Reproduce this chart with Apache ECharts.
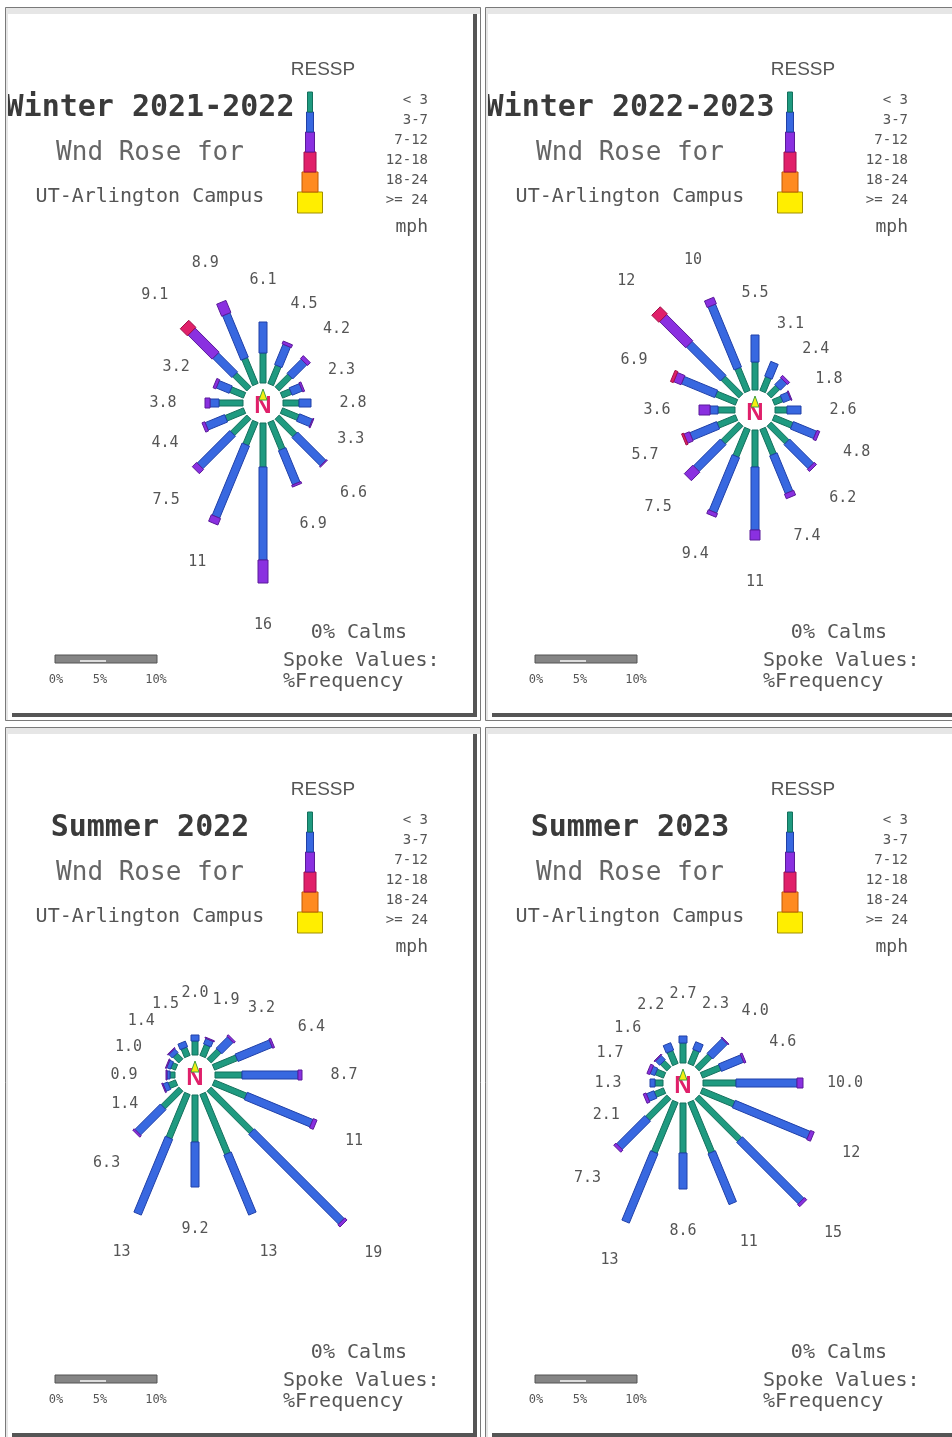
<!DOCTYPE html>
<html><head><meta charset="utf-8">
<script src="https://cdn.jsdelivr.net/npm/echarts@6/dist/echarts.min.js"></script>
<style>html,body{margin:0;padding:0;background:#fff}#c{width:952px;height:1437px}</style>
</head><body><div id="c"></div>
<script>
// ---- DATA ----
const directions = ['N','NNE','NE','ENE','E','ESE','SE','SSE','S','SSW','SW','WSW','W','WNW','NW','NNW'];
const speedBins = ['< 3','3-7','7-12','12-18','18-24','>= 24'];
const titles = ['Winter 2021-2022','Winter 2022-2023','Summer 2022','Summer 2023'];

// Winter 2021-2022 (% frequency per speed bin)
const w2122_lt3   = [3.0,2.0,1.8,1.0,1.6,1.8,2.5,3.0,4.4,2.5,2.3,2.0,2.4,1.5,2.0,2.8];
const w2122_3to7  = [3.1,2.2,2.0,1.1,1.2,1.4,4.0,3.7,9.3,7.8,4.6,2.1,0.9,1.4,2.7,4.8];
const w2122_7to12 = [0,0.3,0.4,0.2,0,0.1,0.1,0.2,2.3,0.7,0.6,0.3,0.5,0.3,3.4,1.3];
const w2122_12to18= [0,0,0,0,0,0,0,0,0,0,0,0,0,0,1.0,0];
const w2122_labels= ['6.1','4.5','4.2','2.3','2.8','3.3','6.6','6.9','16','11','7.5','4.4','3.8','3.2','9.1','8.9'];

// Winter 2022-2023
const w2223_lt3   = [2.8,1.5,1.2,0.9,1.2,2.0,2.5,2.8,3.7,3.0,2.5,2.0,1.7,2.2,2.5,2.5];
const w2223_3to7  = [2.7,1.6,0.9,0.8,1.4,2.5,3.4,4.1,6.3,6.0,3.8,2.9,0.8,3.6,4.8,6.8];
const w2223_7to12 = [0,0,0.3,0.1,0,0.3,0.3,0.5,1.0,0.4,1.2,0.6,1.1,0.8,3.7,0.7];
const w2223_12to18= [0,0,0,0,0,0,0,0,0,0,0,0.2,0,0.3,1.0,0];
const w2223_labels= ['5.5','3.1','2.4','1.8','2.6','4.8','6.2','7.4','11','9.4','7.5','5.7','3.6','6.9','12','10'];

// Summer 2022
const s22_lt3   = [1.4,1.2,1.4,2.5,2.7,3.5,6.0,6.5,4.7,4.8,2.5,0.8,0.5,0.5,0.8,0.9];
const s22_3to7  = [0.6,0.6,1.6,3.7,5.6,7.1,12.7,6.5,4.5,8.2,3.6,0.5,0.3,0.4,0.5,0.6];
const s22_7to12 = [0,0.1,0.2,0.2,0.4,0.4,0.3,0,0,0,0.2,0.1,0.1,0.1,0.1,0];
const s22_12to18= [0,0,0,0,0,0,0,0,0,0,0,0,0,0,0,0];
const s22_labels= ['2.0','1.9','3.2','6.4','8.7','11','19','13','9.2','13','6.3','1.4','0.9','1.0','1.4','1.5'];

// Summer 2023
const s23_lt3   = [2.0,1.5,1.8,2.0,3.3,3.5,6.0,5.5,5.0,5.5,3.0,1.0,0.8,0.9,0.9,1.4];
const s23_3to7  = [0.7,0.8,2.1,2.4,6.1,8.1,8.7,5.5,3.6,7.5,4.0,0.8,0.5,0.5,0.6,0.8];
const s23_7to12 = [0,0,0.1,0.2,0.6,0.4,0.3,0,0,0,0.3,0.3,0,0.3,0.1,0];
const s23_12to18= [0,0,0,0,0,0,0,0,0,0,0,0,0,0,0,0];
const s23_labels= ['2.7','2.3','4.0','4.6','10.0','12','15','11','8.6','13','7.3','2.1','1.3','1.7','1.6','2.2'];

// ---- LAYOUT / STYLE ----
const panels = [
  {bins:[w2122_lt3,w2122_3to7,w2122_7to12,w2122_12to18], labels:w2122_labels},
  {bins:[w2223_lt3,w2223_3to7,w2223_7to12,w2223_12to18], labels:w2223_labels},
  {bins:[s22_lt3,s22_3to7,s22_7to12,s22_12to18], labels:s22_labels},
  {bins:[s23_lt3,s23_3to7,s23_7to12,s23_12to18], labels:s23_labels}
];
const offsets = [[0,0],[480,0],[0,720],[480,720]];
const centers = [[263,403],[755,410],[195,1075],[683,1083]];
const binColors = ['#1f9a80','#3868e0','#8a30e0','#e0206a','#ff8a20','#ffee00'];
const binStroke = ['#13705c','#2040a8','#5a1a9a','#a01048','#c05a00','#a09000'];
const spokeWidth = [6,8,10,12];
const MONO = '"DejaVu Sans Mono","Liberation Mono",monospace';

const chart = echarts.init(document.getElementById('c'), null, {renderer:'canvas'});

const polar = [], angleAxis = [], radiusAxis = [], series = [];
panels.forEach((p, i) => {
  polar.push({center: centers[i], radius: 220});
  angleAxis.push({polarIndex:i, type:'value', min:0, max:360, startAngle:90, clockwise:true, show:false,
    axisLine:{show:false}, axisTick:{show:false}, axisLabel:{show:false}, splitLine:{show:false}});
  radiusAxis.push({polarIndex:i, type:'value', min:-2, max:20, show:false,
    axisLine:{show:false}, axisTick:{show:false}, axisLabel:{show:false}, splitLine:{show:false}});
  const data = directions.map((d, k) => {
    const b = p.bins.map(arr => arr[k]);
    const tot = b.reduce((a, c) => a + c, 0);
    return [tot, k * 22.5, b[0], b[1], b[2], b[3], k];
  });
  series.push({
    type:'custom', coordinateSystem:'polar', polarIndex:i, silent:true, animation:false,
    data: data,
    renderItem: (params, api) => {
      const ang = api.value(1);
      const children = [];
      let r0 = 0;
      for (let s = 0; s < 4; s++) {
        const v = api.value(2 + s);
        if (!(v > 0)) continue;
        const r1 = r0 + v;
        const a = api.coord([r0, ang]), b = api.coord([r1, ang]);
        let dx = b[0]-a[0], dy = b[1]-a[1];
        const L = Math.hypot(dx, dy) || 1; dx/=L; dy/=L;
        const h = spokeWidth[s]/2, nx = -dy*h, ny = dx*h;
        children.push({type:'polygon', shape:{points:[[a[0]+nx,a[1]+ny],[b[0]+nx,b[1]+ny],[b[0]-nx,b[1]-ny],[a[0]-nx,a[1]-ny]]},
          style:{fill:binColors[s], stroke:binStroke[s], lineWidth:1}});
        r0 = r1;
      }
      const lp = api.coord([api.value(0) + 4.2, ang]);
      children.push({type:'text', x:lp[0], y:lp[1], style:{text: p.labels[api.value(6)], fill:'#555',
        font:'15px ' + MONO, align:'center', verticalAlign:'middle'}});
      return {type:'group', children};
    }
  });
});

// ---- GRAPHIC (titles, legend, frames) ----
const graphic = [];
panels.forEach((p, i) => {
  const [ox, oy] = offsets[i];
  const c = centers[i];
  // titles
  graphic.push({type:'text', x:150+ox, y:108+oy, z:5, style:{text:titles[i], font:'bold 30px '+MONO, fill:'#3a3a3a', align:'center', verticalAlign:'middle'}});
  graphic.push({type:'text', x:150+ox, y:153+oy, z:5, style:{text:'Wnd Rose for', font:'26px '+MONO, fill:'#666', align:'center', verticalAlign:'middle'}});
  graphic.push({type:'text', x:150+ox, y:197+oy, z:5, style:{text:'UT-Arlington Campus', font:'20px '+MONO, fill:'#555', align:'center', verticalAlign:'middle'}});
  // legend
  graphic.push({type:'text', x:323+ox, y:70+oy, z:5, style:{text:'RESSP', font:'19px "Liberation Sans",sans-serif', fill:'#555', align:'center', verticalAlign:'middle'}});
  const lw = [5,7,9,12,16,25], ly = [92,112,132,152,172,192,213];
  for (let k = 5; k >= 0; k--) {
    graphic.push({type:'rect', z:5, shape:{x:310+ox-lw[k]/2, y:ly[k]+oy, width:lw[k], height:ly[k+1]-ly[k]},
      style:{fill:binColors[k], stroke:binStroke[k], lineWidth:1}});
  }
  speedBins.forEach((t, k) => {
    graphic.push({type:'text', x:428+ox, y:100+20*k+oy, z:5, style:{text:t, font:'14px '+MONO, fill:'#555', align:'right', verticalAlign:'middle'}});
  });
  graphic.push({type:'text', x:428+ox, y:227+oy, z:5, style:{text:'mph', font:'18px '+MONO, fill:'#555', align:'right', verticalAlign:'middle'}});
  // center arrow
  graphic.push({type:'text', x:c[0], y:c[1]+3, z:20, style:{text:'N', font:'bold 24px "Liberation Sans",sans-serif', fill:'#e0206a', align:'center', verticalAlign:'middle'}});
  graphic.push({type:'polygon', z:21, shape:{points:[[c[0],c[1]-14],[c[0]-4,c[1]-3],[c[0]+4,c[1]-3]]}, style:{fill:'#f4ee10', stroke:'#40a040', lineWidth:1}});
  // footer
  graphic.push({type:'text', x:359+ox, y:633+oy, z:5, style:{text:'0% Calms', font:'20px '+MONO, fill:'#555', align:'center', verticalAlign:'middle'}});
  graphic.push({type:'text', x:283+ox, y:661+oy, z:5, style:{text:'Spoke Values:', font:'20px '+MONO, fill:'#555', align:'left', verticalAlign:'middle'}});
  graphic.push({type:'text', x:283+ox, y:682+oy, z:5, style:{text:'%Frequency', font:'20px '+MONO, fill:'#555', align:'left', verticalAlign:'middle'}});
  graphic.push({type:'rect', z:5, shape:{x:55+ox, y:655+oy, width:102, height:8}, style:{fill:'#858585', stroke:'#555', lineWidth:1}});
  graphic.push({type:'rect', z:6, shape:{x:80+ox, y:660+oy, width:26, height:2}, style:{fill:'#ddd'}});
  [['0%',56],['5%',100],['10%',156]].forEach(([t,x]) => {
    graphic.push({type:'text', x:x+ox, y:680+oy, z:5, style:{text:t, font:'12px '+MONO, fill:'#555', align:'center', verticalAlign:'middle'}});
  });
  // frame
  const fx = 5+ox, fy = 7+oy, fw = 476, fh = 714;
  graphic.push({type:'rect', z:50, shape:{x:fx, y:fy, width:3, height:fh}, style:{fill:'#e6e6e6'}});
  graphic.push({type:'rect', z:50, shape:{x:fx, y:fy, width:fw, height:7}, style:{fill:'#e6e6e6'}});
  graphic.push({type:'rect', z:51, shape:{x:fx+0.5, y:fy+0.5, width:fw-1, height:fh-1}, style:{fill:null, stroke:'#7a7a7a', lineWidth:1}});
  graphic.push({type:'rect', z:52, shape:{x:fx+468, y:fy+7, width:4, height:fh-11}, style:{fill:'#555'}});
  graphic.push({type:'rect', z:52, shape:{x:fx+7, y:fy+fh-8, width:fw-11, height:4}, style:{fill:'#555'}});
});

chart.setOption({
  backgroundColor:'#fff',
  animation:false,
  polar, angleAxis, radiusAxis, series, graphic
});
</script></body></html>
